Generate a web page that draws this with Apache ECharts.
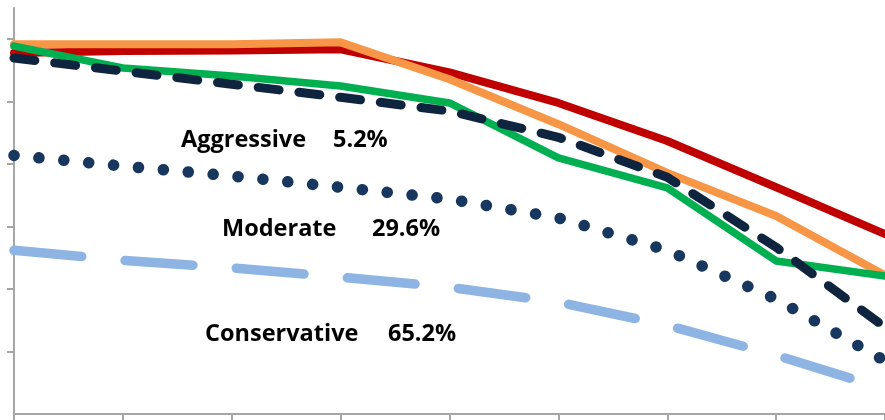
<!DOCTYPE html>
<html>
<head>
<meta charset="utf-8">
<script src="https://cdn.jsdelivr.net/npm/echarts@6/dist/echarts.min.js"></script>
<style>
html,body{margin:0;padding:0;background:#fff;}
#c{width:885px;height:420px;}
</style>
</head>
<body>
<div id="c"></div>
<script>
// Categories (no labels visible in the crop)
var categories = ['P1','P2','P3','P4','P5','P6','P7','P8','P9'];
// Series values (in y-axis tick units: one tick = 10)
var redValues       = [57.8, 58.1, 58.2, 58.4, 54.7, 49.8, 43.7, 36.3, 28.8];
var orangeValues    = [59.2, 59.2, 59.2, 59.5, 53.6, 46.4, 38.6, 31.7, 22.2];
var greenValues     = [58.9, 55.4, 54.1, 52.5, 49.8, 41.0, 36.2, 24.5, 22.1];
var navyDashValues  = [57.0, 54.9, 52.8, 50.7, 48.5, 44.3, 37.9, 26.7, 13.9];
var dottedValues    = [41.4, 39.7, 38.1, 36.3, 34.4, 31.4, 26.2, 18.4, 8.5];
var lightBlueValues = [26.2, 24.6, 23.4, 21.9, 20.3, 17.9, 14.2, 9.4, 4.0];
// Y tick values (labels not shown)
var yTickValues = [10, 20, 30, 40, 50, 60];
// Annotation labels
var labelNames = ['Aggressive', 'Moderate', 'Conservative'];
var labelPercents = ['5.2%', '29.6%', '65.2%'];

var chart = echarts.init(document.getElementById('c'), null, {renderer:'canvas'});
var axisColor = '#A6A6A6';
var font = 'bold 23.5px "Open Sans"';

function mk(name, data, color, width, type){
  return {
    name: name, type: 'line', data: data, symbol: 'none', smooth: false,
    lineStyle: {color: color, width: width, type: type || 'solid', cap: 'round', join: 'round'},
    silent: true
  };
}

var option = {
  animation: false,
  backgroundColor: '#ffffff',
  grid: {left: 14, right: -9, top: 8, bottom: 6, containLabel: false},
  xAxis: {
    type: 'category', data: categories, boundaryGap: false,
    axisLine: {show: true, lineStyle: {color: axisColor, width: 2}},
    axisTick: {show: true, length: 7, inside: false, lineStyle: {color: axisColor, width: 2}},
    axisLabel: {show: false}, splitLine: {show: false}
  },
  yAxis: {
    type: 'value', min: 0, max: 65, interval: 10,
    axisLine: {show: true, lineStyle: {color: axisColor, width: 2}},
    axisTick: {show: true, length: 7, inside: false, customValues: yTickValues, lineStyle: {color: axisColor, width: 2}},
    axisLabel: {show: false}, splitLine: {show: false}
  },
  series: [
    mk('Red', redValues, '#C00000', 8),
    mk('Orange', orangeValues, '#F79646', 8),
    mk('Green', greenValues, '#00B050', 7.5),
    mk('LightBlue', lightBlueValues, '#8DB4E2', 9.5, [68, 43.5]),
    mk('Dotted', dottedValues, '#17375E', 11.5, [0.1, 24.9]),
    mk('NavyDash', navyDashValues, '#0F243E', 9, [21, 20])
  ],
  graphic: [
    {type:'text', x:181, y:140, style:{text: labelNames[0], font: font, fill:'#000', verticalAlign:'middle'}},
    {type:'text', x:333, y:140, style:{text: labelPercents[0], font: font, fill:'#000', verticalAlign:'middle'}},
    {type:'text', x:222, y:229, style:{text: labelNames[1], font: font, fill:'#000', verticalAlign:'middle'}},
    {type:'text', x:372, y:229, style:{text: labelPercents[1], font: font, fill:'#000', verticalAlign:'middle'}},
    {type:'text', x:205, y:334, style:{text: labelNames[2], font: font, fill:'#000', verticalAlign:'middle'}},
    {type:'text', x:388, y:334, style:{text: labelPercents[2], font: font, fill:'#000', verticalAlign:'middle'}}
  ]
};
chart.setOption(option);
</script>
</body>
</html>
